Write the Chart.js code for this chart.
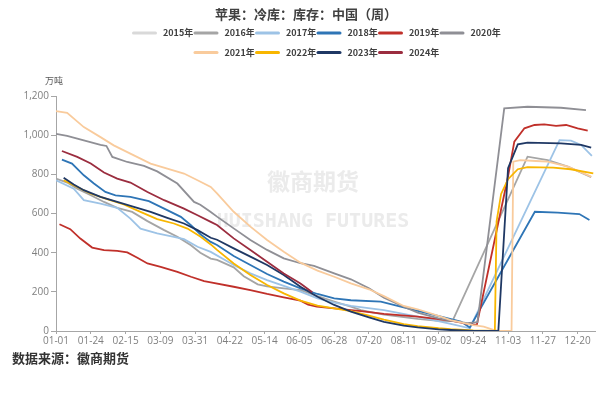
<!DOCTYPE html>
<html>
<head>
<meta charset="utf-8">
<script src="https://cdn.jsdelivr.net/npm/chart.js@4.4.0/dist/chart.umd.min.js"></script>
<style>
  html, body { margin: 0; padding: 0; background: #fff; }
</style>
</head>
<body>
<canvas id="apple-stock-chart" width="614" height="394"></canvas>
<script>
(function () {
  "use strict";

  // x is measured in tick steps: 0 = 01-01, 1 = 01-24, ... 15 = 12-20
  var xLabels = ["01-01", "01-24", "02-15", "03-09", "03-31", "04-22", "05-14", "06-05",
    "06-28", "07-20", "08-11", "09-02", "09-24", "11-03", "11-27", "12-20"];
  var yTicks = [0, 200, 400, 600, 800, 1000, 1200];
  var years = ["2015年", "2016年", "2017年", "2018年", "2019年", "2020年", "2021年", "2022年", "2023年", "2024年"];
  var colors = ["#d9d9d9", "#a5a5a5", "#9dc3e6", "#2e75b6", "#c0302a", "#8f8f95", "#f9cb9c", "#f8b600", "#1f3864", "#9b2d3f"];

  var s2015 = [];
  var s2016 = [[0, 778], [0.32, 758], [0.61, 727], [1.0, 693], [1.38, 659], [1.76, 629], [2.19, 608], [2.63, 561],
    [3.11, 515], [3.49, 481], [3.88, 438], [4.15, 400], [4.45, 370], [4.63, 363], [5.11, 325], [5.4, 280], [5.8, 238],
    [6.07, 228], [6.55, 218], [7.03, 209], [7.52, 178], [8.0, 150], [8.48, 124], [8.77, 107], [9.43, 84], [10.4, 62],
    [11.0, 52], [11.4, 50], [13.56, 890], [14.14, 873], [14.72, 839], [15.39, 786]];
  var s2017 = [[0, 770], [0.51, 727], [0.8, 668], [1.28, 651], [1.76, 629], [2.14, 574], [2.43, 523], [2.91, 498],
    [3.39, 481], [3.68, 469], [4.07, 430], [4.45, 404], [5.11, 337], [5.59, 294], [6.07, 260], [6.55, 230], [7.03, 201],
    [7.52, 167], [8.0, 145], [8.48, 128], [9.43, 107], [10.4, 73], [11.35, 36], [11.9, 14], [14.48, 975],
    [14.81, 972], [15.1, 950], [15.41, 894]];
  var s2018 = [[0.17, 875], [0.46, 855], [0.8, 795], [1.09, 753], [1.42, 710], [1.71, 693], [2.14, 685], [2.67, 663],
    [3.11, 625], [3.59, 583], [3.88, 540], [4.16, 493], [4.45, 455], [4.63, 439], [5.11, 383], [5.59, 337], [6.07, 291],
    [6.55, 252], [7.03, 218], [7.52, 189], [8.0, 167], [8.48, 157], [9.34, 150], [9.91, 124], [10.87, 82],
    [11.64, 48], [11.9, 18], [13.77, 609], [14.43, 604], [15.05, 597], [15.34, 567]];
  var s2019 = [[0.1, 545], [0.41, 520], [0.7, 472], [1.04, 426], [1.38, 413], [1.76, 409], [2.05, 401], [2.34, 374],
    [2.63, 345], [3.01, 328], [3.49, 302], [3.88, 277], [4.26, 255], [4.45, 248], [5.11, 226], [5.59, 209], [6.07, 189],
    [6.55, 172], [7.03, 155], [7.25, 135], [7.5, 124], [8.0, 115], [8.77, 102], [9.43, 87], [10.4, 73], [11.35, 53],
    [11.83, 36], [12.1, 31], [13.0, 790], [13.18, 967], [13.47, 1035], [13.76, 1052], [14.04, 1055], [14.38, 1047],
    [14.67, 1052], [15.0, 1035], [15.29, 1023]];
  var s2020 = [[0, 1007], [0.32, 996], [0.8, 973], [1.28, 951], [1.45, 945], [1.62, 889], [2.05, 863], [2.53, 843],
    [2.91, 815], [3.49, 753], [3.97, 659], [4.15, 645], [4.45, 608], [4.63, 584], [5.11, 524], [5.59, 465], [6.07, 414],
    [6.55, 371], [7.03, 346], [7.42, 332], [8.0, 294], [8.48, 264], [9.0, 218], [9.43, 170], [10.0, 124], [10.4, 94],
    [11.0, 65], [11.35, 53], [11.83, 40], [12.12, 45], [12.89, 1137], [13.56, 1145], [14.52, 1140], [15.24, 1128]];
  var s2021 = [[0, 1123], [0.32, 1114], [0.8, 1041], [1.28, 990], [1.66, 948], [2.24, 897], [2.72, 855], [3.2, 829],
    [3.68, 804], [4.07, 770], [4.45, 736], [4.63, 703], [5.11, 609], [5.59, 533], [6.07, 465], [6.55, 405], [7.03, 349],
    [7.52, 308], [8.0, 277], [8.48, 243], [9.0, 213], [9.43, 178], [10.0, 128], [10.4, 111], [11.0, 77], [11.35, 56],
    [12.0, 30], [12.3, 22], [12.6, 5], [12.75, 0], [13.1, 0], [13.15, 865], [13.35, 873], [13.8, 868], [14.14, 865],
    [14.72, 839], [15.39, 788]];
  var s2022 = [[0.22, 770], [0.51, 744], [0.99, 702], [1.47, 673], [1.95, 646], [2.43, 608], [2.91, 571], [3.39, 549],
    [3.78, 523], [4.16, 481], [4.45, 442], [4.63, 414], [5.11, 345], [5.59, 286], [6.07, 235], [6.55, 192], [7.03, 155],
    [7.52, 130], [8.0, 116], [8.48, 102], [9.0, 78], [9.43, 58], [10.0, 35], [10.4, 25], [11.0, 14], [11.35, 9],
    [12.0, 3], [12.62, 0], [12.67, 560], [12.8, 700], [13.0, 775], [13.28, 826], [13.56, 837], [14.3, 834],
    [14.8, 826], [15.45, 805]];
  var s2023 = [[0.22, 783], [0.51, 748], [0.8, 719], [1.28, 685], [1.76, 659], [2.24, 634], [2.72, 608], [3.2, 578],
    [3.68, 549], [4.07, 515], [4.45, 476], [4.63, 466], [5.11, 422], [5.59, 380], [6.07, 337], [6.55, 286], [7.03, 226],
    [7.52, 175], [8.0, 133], [8.48, 99], [9.0, 70], [9.43, 47], [10.0, 28], [10.4, 18], [11.0, 8], [11.35, 5],
    [12.0, 0], [12.72, 0], [13.0, 831], [13.28, 953], [13.56, 962], [14.52, 958], [15.1, 950], [15.39, 936]];
  var s2024 = [[0.17, 919], [0.61, 889], [1.0, 855], [1.38, 809], [1.76, 778], [2.14, 758], [2.63, 710], [3.11, 668],
    [3.68, 625], [4.07, 591], [4.45, 557], [4.63, 541], [5.11, 473], [5.59, 414], [6.07, 354], [6.55, 294], [7.03, 243],
    [7.37, 198]];

  var series = [s2015, s2016, s2017, s2018, s2019, s2020, s2021, s2022, s2023, s2024];

  var CJK = "'Noto Sans CJK SC', 'Noto Sans', sans-serif";
  var LATIN = "'Open Sans', 'Noto Sans', sans-serif";

  var decorPlugin = {
    id: "decor",
    beforeDatasetsDraw: function (chart) {
      // watermark sits behind the lines
      var ctx = chart.ctx;
      ctx.save();
      ctx.textAlign = "center";
      ctx.textBaseline = "middle";
      ctx.fillStyle = "#ebebeb";
      ctx.font = "bold 23px " + CJK;
      ctx.fillText("徽商期货", 313, 181);
      ctx.font = "bold 20px 'DejaVu Sans Mono', monospace";
      ctx.fillText("HUISHANG FUTURES", 313, 222);
      ctx.restore();
    },
    afterDraw: function (chart) {
      var ctx = chart.ctx;
      ctx.save();
      ctx.textBaseline = "middle";

      ctx.textAlign = "center";
      ctx.fillStyle = "#404040";
      ctx.font = "bold 13px " + CJK;
      ctx.fillText("苹果：冷库：库存：中国（周）", 306, 14);

      // legend, two rows
      var ds = chart.data.datasets;
      var rows = [ds.slice(0, 6), ds.slice(6)];
      var pitch = 61.5;
      ctx.font = "bold 9px " + CJK;
      ctx.textAlign = "left";
      rows.forEach(function (row, r) {
        var x = 313 - (row.length * pitch - 7) / 2;
        var y = r === 0 ? 33 : 52.5;
        row.forEach(function (d) {
          ctx.strokeStyle = d.borderColor;
          ctx.lineWidth = 3;
          ctx.lineCap = "round";
          ctx.beginPath();
          ctx.moveTo(x + 1.5, y);
          ctx.lineTo(x + 23.5, y);
          ctx.stroke();
          ctx.fillStyle = "#404040";
          ctx.fillText(d.label, x + 31, y);
          x += pitch;
        });
      });

      ctx.textAlign = "center";
      ctx.fillStyle = "#595959";
      ctx.font = "9px " + CJK;
      ctx.fillText("万吨", 54, 81);

      ctx.textAlign = "left";
      ctx.fillStyle = "#333333";
      ctx.font = "bold 13px " + CJK;
      ctx.fillText("数据来源：徽商期货", 12, 358);
      ctx.restore();
    },
  };

  var datasets = years.map(function (name, i) {
    return {
      label: name,
      data: series[i].map(function (p) {
        return { x: p[0], y: p[1] };
      }),
      borderColor: colors[i],
      backgroundColor: colors[i],
      borderWidth: 1.8,
      pointRadius: 0,
      tension: 0,
      order: years.length - 1 - i,
    };
  });

  new Chart(document.getElementById("apple-stock-chart"), {
    type: "line",
    data: { datasets: datasets },
    options: {
      responsive: false,
      animation: false,
      layout: { padding: { top: 96, right: 19, bottom: 43, left: 0 } },
      plugins: {
        legend: { display: false },
        title: { display: false },
        tooltip: { enabled: false },
      },
      scales: {
        x: {
          type: "linear",
          min: 0,
          max: 15.5,
          afterFit: function (scale) {
            scale.height = 20;
          },
          border: { display: true, color: "#a6a6a6", width: 1 },
          grid: { display: true, drawOnChartArea: false, tickLength: 3, color: "#a6a6a6" },
          ticks: {
            stepSize: 1,
            includeBounds: false,
            autoSkip: false,
            maxRotation: 0,
            padding: 1,
            color: "#7f7f7f",
            font: { size: 10, family: LATIN },
            callback: function (v) {
              return xLabels[v] !== undefined ? xLabels[v] : "";
            },
          },
        },
        y: {
          min: 0,
          max: 1200,
          afterFit: function (scale) {
            scale.width = 56;
          },
          afterBuildTicks: function (scale) {
            scale.ticks = yTicks.map(function (v) {
              return { value: v };
            });
          },
          border: { display: true, color: "#a6a6a6", width: 1 },
          grid: { display: true, drawOnChartArea: false, tickLength: 5, color: "#a6a6a6" },
          ticks: {
            padding: 2,
            color: "#7f7f7f",
            font: { size: 10, family: LATIN },
            callback: function (v) {
              return v.toLocaleString("en-US");
            },
          },
        },
      },
    },
    plugins: [decorPlugin],
  });
})();
</script>
</body>
</html>
